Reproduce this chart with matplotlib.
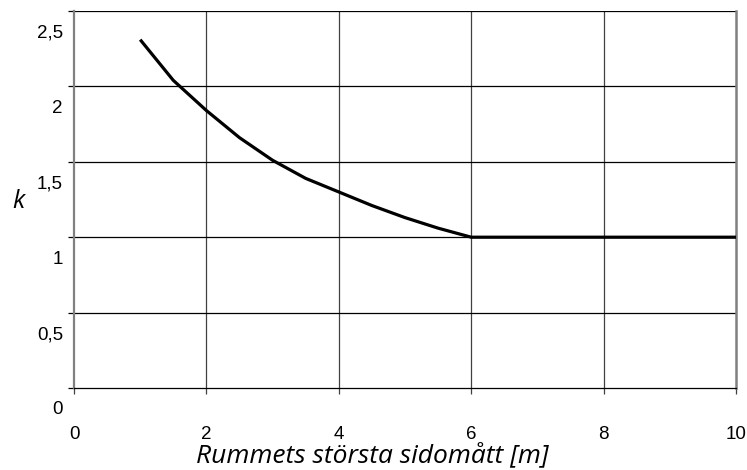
import matplotlib.pyplot as plt
import matplotlib.transforms as mtransforms

# Avlästa värden (k som funktion av rummets största sidomått)
sidomatt = [1, 1.5, 2, 2.5, 3, 3.5, 4, 4.5, 5, 5.5, 6, 10]
k_varden = [2.31, 2.04, 1.84, 1.66, 1.51, 1.39, 1.30, 1.21, 1.13, 1.06, 1.00, 1.00]

x_ticks = [0, 2, 4, 6, 8, 10]
y_ticks = [0, 0.5, 1, 1.5, 2, 2.5]
y_ticklabels = ['0', '0,5', '1', '1,5', '2', '2,5']

fig = plt.figure(figsize=(7.47, 4.70), dpi=100)
ax = fig.add_axes([74 / 747, 82 / 470, 662 / 747, 377 / 470])

ax.plot(sidomatt, k_varden, color='black', linewidth=2.3, solid_capstyle='butt', zorder=3)

ax.set_xlim(0, 10)
ax.set_ylim(0, 2.5)
ax.set_xticks(x_ticks)
ax.set_xticklabels([str(v) for v in x_ticks])
ax.set_yticks(y_ticks)
ax.set_yticklabels(y_ticklabels)

# rutnät
for xv in x_ticks[1:-1]:
    ax.axvline(xv, color='#404040', linewidth=0.9, zorder=1)
for yv in y_ticks[1:]:
    ax.axhline(yv, color='black', linewidth=0.9, zorder=1)

ax.spines['top'].set_visible(False)
ax.spines['left'].set_color('#808080')
ax.spines['left'].set_linewidth(1.6)
ax.spines['right'].set_color('#808080')
ax.spines['right'].set_linewidth(1.8)
ax.spines['bottom'].set_color('black')
ax.spines['bottom'].set_linewidth(0.9)

ax.tick_params(axis='y', length=4, width=0.9, color='black', pad=4, labelsize=13.5)
ax.tick_params(axis='x', length=4, width=0.9, color='#404040', pad=23.5, labelsize=13.5)
for lbl in ax.get_xticklabels() + ax.get_yticklabels():
    lbl.set_family('Liberation Sans')

# y-etiketterna ligger en bit under sina linjer
offset = mtransforms.ScaledTranslation(0, -20 / 100, fig.dpi_scale_trans)
for lbl in ax.get_yticklabels():
    lbl.set_transform(lbl.get_transform() + offset)

fig.text(372 / 747, 1 - 462 / 470, 'Rummets största sidomått [m]', family='Open Sans',
         style='italic', fontsize=19, ha='center', va='baseline')
fig.text(18 / 747, 1 - 201 / 470, 'k', family='Open Sans', style='italic',
         fontsize=18, ha='center', va='center')

fig.savefig('out.png', dpi=100)
